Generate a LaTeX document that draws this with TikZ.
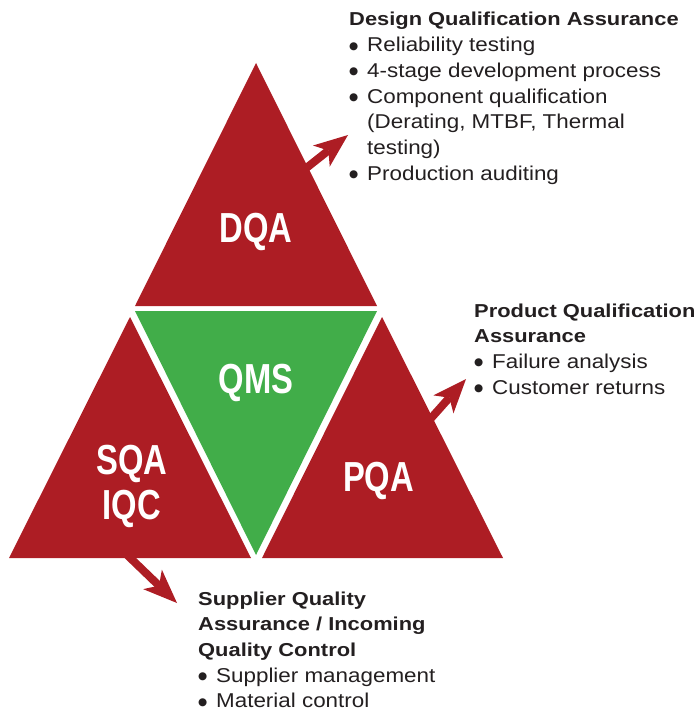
\documentclass[tikz,border=0pt]{standalone}
\usepackage{fontspec}
\setmainfont{Liberation Sans}
\newfontfamily\headfont{Liberation Sans}[FakeStretch=1.17]
\newfontfamily\bodyfont{Liberation Sans}[FakeStretch=1.12]
\newfontfamily\labfont{Liberation Sans}[FakeStretch=0.78]
\newfontfamily\symfont{DejaVu Sans}
\usetikzlibrary{arrows.meta}
\definecolor{qred}{RGB}{173,29,36}
\definecolor{qgreen}{RGB}{65,173,73}
\definecolor{qtext}{RGB}{35,31,32}
\newcommand{\bul}{\makebox[18pt][l]{\raisebox{2.5pt}{\fontsize{10.5}{10.5}\symfont ●}}}
\newcommand{\hd}[1]{\hbox{\fontsize{18.7}{25.7}\headfont\bfseries #1}}
\newcommand{\bd}[1]{\hbox{\fontsize{20}{25.7}\bodyfont #1}}
\newcommand{\blk}[1]{\vtop{\baselineskip=25.7pt\lineskip=0pt\lineskiplimit=-100pt #1}}
\newcommand{\twolines}[2]{\vtop{\baselineskip=45pt\lineskip=0pt\lineskiplimit=-100pt\hbox to 0pt{\hss#1\hss}\hbox to 0pt{\hss#2\hss}}}
\begin{document}
\begin{tikzpicture}[x=1pt,y=-1pt,
  tri/.style={fill=qred},
  lab/.style={font=\fontsize{42}{45}\labfont\bfseries, text=white, anchor=base, inner sep=0pt},
  info/.style={anchor=base west, inner sep=0pt, text=qtext},
  outarrow/.style={draw=qred, line width=8pt, -{Stealth[length=34pt,width=27pt,inset=9pt,line width=0pt]}}]
\useasboundingbox (0,0) rectangle (699,711);
% arrows
\coordinate (dqaout) at (300,173);
\coordinate (pqaout) at (425,425);
\coordinate (sqaout) at (122,550);
\node[info] (dqatext) at (349,26) {\blk{%
  \hd{Design Qualification Assurance}
  \bd{\bul Reliability testing}
  \bd{\bul 4-stage development process}
  \bd{\bul Component qualification}
  \bd{\hspace*{18pt}(Derating, MTBF, Thermal}
  \bd{\hspace*{18pt}testing)}
  \bd{\bul Production auditing}}};
\node[info] (pqatext) at (474,317) {\blk{%
  \hd{Product Qualification}
  \hd{Assurance}
  \bd{\bul Failure analysis}
  \bd{\bul Customer returns}}};
\node[info] (sqatext) at (198,605) {\blk{%
  \hd{Supplier Quality}
  \hd{Assurance / Incoming}
  \hd{Quality Control}
  \bd{\bul Supplier management}
  \bd{\bul Material control}}};
\coordinate (dqatip) at (348,135);
\coordinate (pqatip) at (466,379);
\coordinate (sqatip) at (177,603);
\draw[outarrow] (dqaout) -- (dqatip);
\draw[outarrow] (pqaout) -- (pqatip);
\draw[outarrow] (sqaout) -- (sqatip);
% triangles
\fill[tri] (256,63) -- (135,306) -- (377,306) -- cycle;
\fill[fill=qgreen] (135,311) -- (377,311) -- (256,555) -- cycle;
\fill[tri] (130,317) -- (9,558) -- (251,558) -- cycle;
\fill[tri] (382,317) -- (262,558) -- (503,558) -- cycle;
% labels
\node[lab] (dqa) at (256,242) {DQA};
\node[lab] (qms) at (256,393) {QMS};
\node[lab] (pqa) at (378.5,491) {PQA};
\node[lab] (sqa) at (132,474) {\twolines{SQA}{IQC}};
\end{tikzpicture}
\end{document}
